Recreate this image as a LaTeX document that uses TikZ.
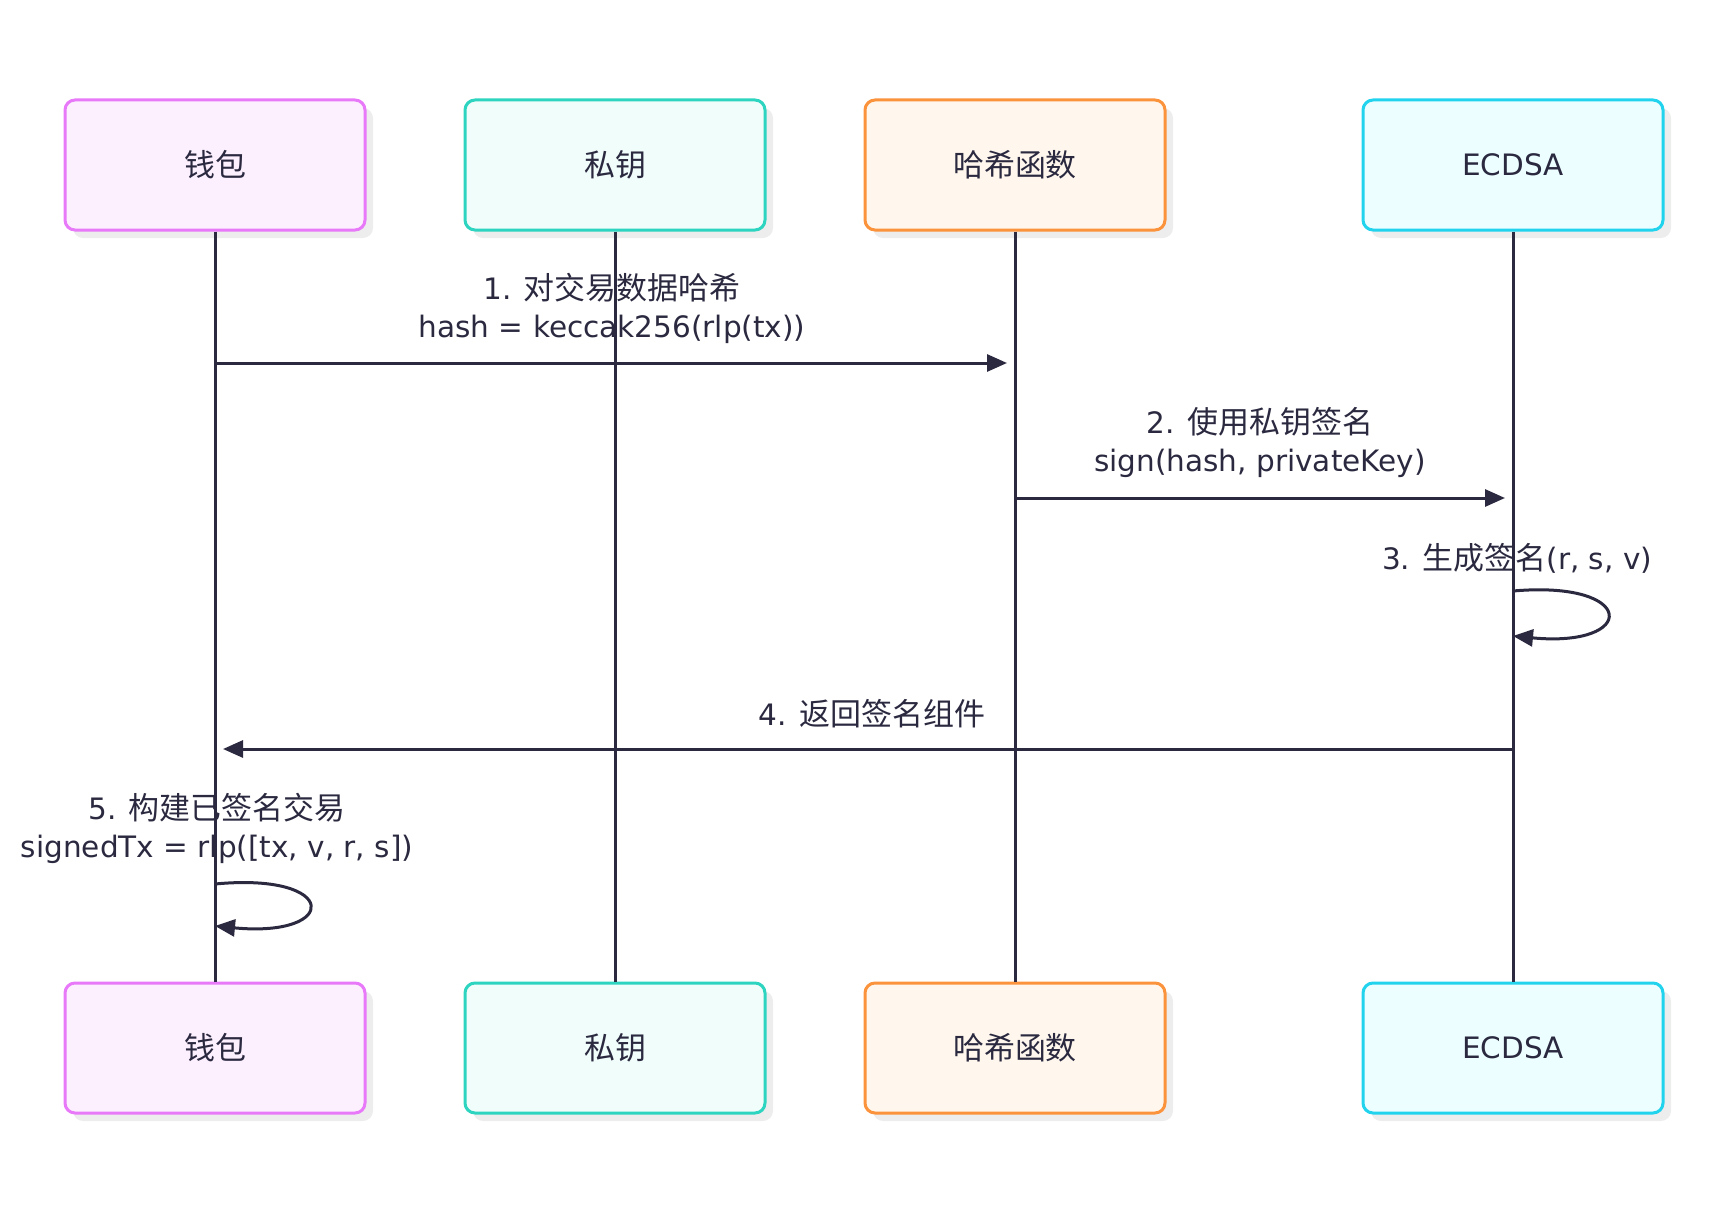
\documentclass[tikz,border=0pt]{standalone}
\usepackage{fontspec}
\setmainfont{DejaVu Sans}
\newfontfamily\cjk{Noto Sans CJK SC}[Scale=1.05]
\usetikzlibrary{positioning, arrows.meta, shadows}

\definecolor{ink}{HTML}{2A2940}
\definecolor{walletline}{HTML}{E879F9}
\definecolor{walletfill}{HTML}{FDF0FE}
\definecolor{keyline}{HTML}{2DD4BF}
\definecolor{keyfill}{HTML}{F0FDFA}
\definecolor{hashline}{HTML}{FB923C}
\definecolor{hashfill}{HTML}{FFF7ED}
\definecolor{ecline}{HTML}{22D3EE}
\definecolor{ecfill}{HTML}{ECFEFF}

\begin{document}
\begin{tikzpicture}[
  x=1pt, y=-1pt,
  font=\fontsize{29.5}{38}\selectfont,
  every node/.style={inner sep=2pt, text=ink},
  actor/.style={
    rectangle, rounded corners=10pt, line width=3pt,
    minimum width=300pt, minimum height=130pt, align=center,
    drop shadow={shadow xshift=8pt, shadow yshift=-8pt,
                 fill=black!7, opacity=1},
  },
  wallet/.style={actor, draw=walletline, fill=walletfill},
  pkey/.style={actor, draw=keyline, fill=keyfill},
  hashfn/.style={actor, draw=hashline, fill=hashfill},
  ecdsa/.style={actor, draw=ecline, fill=ecfill},
  life/.style={draw=ink, line width=3pt},
  msg/.style={-{Triangle[length=20pt,width=17pt]}, draw=ink, line width=3pt},
  msglabel/.style={align=center},
]

\useasboundingbox (0,0) rectangle (1732,1212);

% ── Column x-positions ─────────────────────────────────────────────
\def\cW{215}
\def\cK{615}
\def\cH{1015}
\def\cE{1513}

% ── Row y-positions ────────────────────────────────────────────────
\def\rTop{165}
\def\rBot{1048}
\def\rOne{363}
\def\rTwo{498}
\def\rFour{749}

% ── Actors (top) ───────────────────────────────────────────────────
\node[wallet] (wTop) at (\cW,\rTop) {\cjk 钱包};
\node[pkey]   (kTop) at (\cK,\rTop) {\cjk 私钥};
\node[hashfn] (hTop) at (\cH,\rTop) {\cjk 哈希函数};
\node[ecdsa]  (eTop) at (\cE,\rTop) {ECDSA};

% ── Actors (bottom) ────────────────────────────────────────────────
\node[wallet] (wBot) at (\cW,\rBot) {\cjk 钱包};
\node[pkey]   (kBot) at (\cK,\rBot) {\cjk 私钥};
\node[hashfn] (hBot) at (\cH,\rBot) {\cjk 哈希函数};
\node[ecdsa]  (eBot) at (\cE,\rBot) {ECDSA};

% ── Lifelines ──────────────────────────────────────────────────────
\draw[life] (hTop.south) -- (hBot.north);

% ── Message 1: wallet -> hash function ─────────────────────────────
\coordinate (m1a) at (\cW,\rOne);
\coordinate (m1b) at (\cH-8,\rOne);
\draw[msg] (m1a) -- (m1b);
\node[msglabel] (l1) at (612,308) {1. {\cjk 对交易数据哈希}\\hash = keccak256(rlp(tx))};

% ── Message 2: hash function -> ECDSA ──────────────────────────────
\coordinate (m2a) at (\cH,\rTwo);
\coordinate (m2b) at (\cE-8,\rTwo);
\draw[msg] (m2a) -- (m2b);
\node[msglabel] (l2) at (1260,442) {2. {\cjk 使用私钥签名}\\sign(hash, privateKey)};

% ── Message 3: ECDSA self call ─────────────────────────────────────
\node[msglabel] (l3) at (1517,558) {3. {\cjk 生成签名}(r, s, v)};
\coordinate (m3a) at (\cE,591);
\coordinate (m3b) at (\cE,636);
\draw[msg] (m3a) .. controls (\cE+125,580) and (\cE+125,648) .. (m3b);

% ── Message 4: ECDSA -> wallet ─────────────────────────────────────
\coordinate (m4a) at (\cE,\rFour);
\coordinate (m4b) at (\cW+8,\rFour);
\draw[msg] (m4a) -- (m4b);
\node[msglabel] (l4) at (872,714) {4. {\cjk 返回签名组件}};

% ── Message 5: wallet self call ────────────────────────────────────
\node[msglabel] (l5) at (217,828) {5. {\cjk 构建已签名交易}\\signedTx = rlp([tx, v, r, s])};
\coordinate (m5a) at (\cW,884);
\coordinate (m5b) at (\cW,926);
\draw[msg] (m5a) .. controls (\cW+125,872) and (\cW+125,938) .. (m5b);

% ── Remaining lifelines drawn over the labels ──────────────────────
\draw[life] (wTop.south) -- (wBot.north);
\draw[life] (kTop.south) -- (kBot.north);
\draw[life] (eTop.south) -- (eBot.north);

\end{tikzpicture}
\end{document}
